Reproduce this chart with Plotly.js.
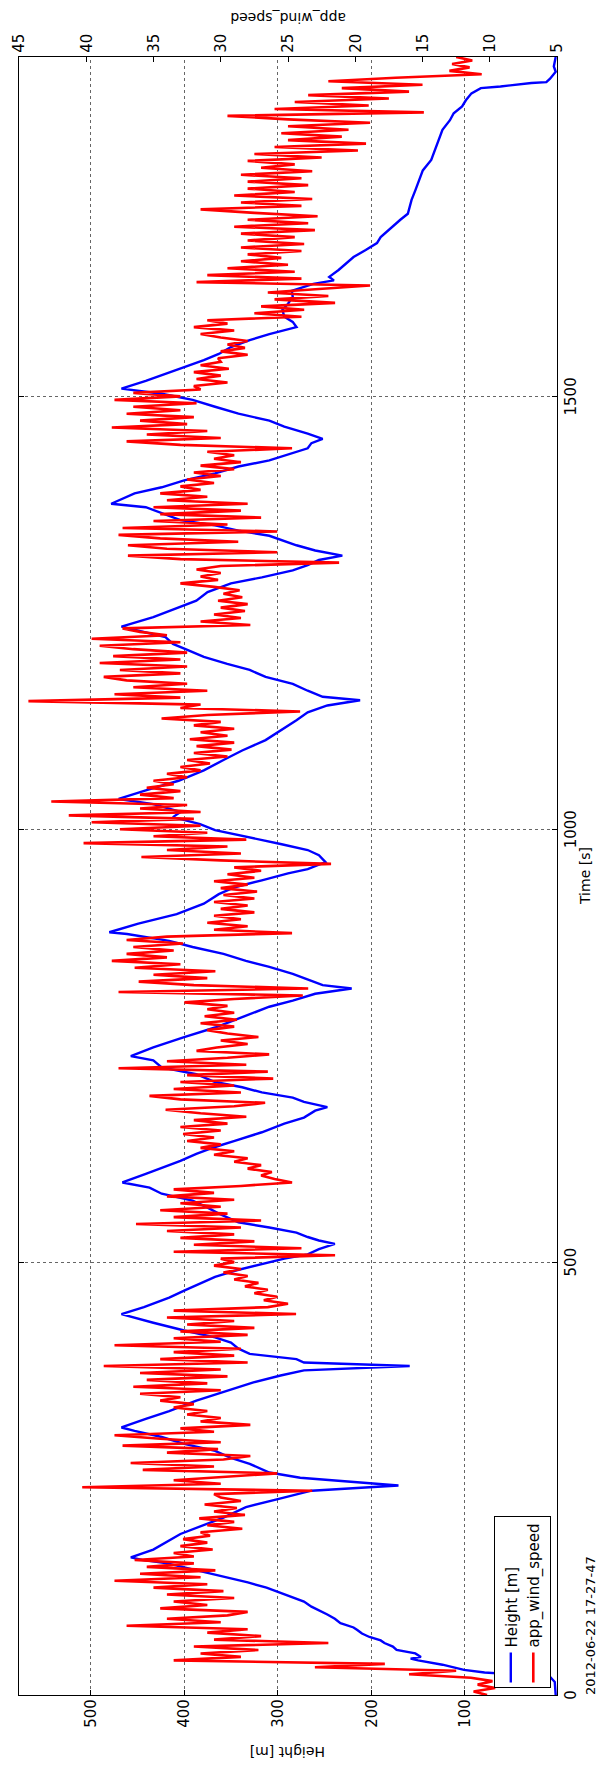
<!DOCTYPE html>
<html><head><meta charset="utf-8">
<script src="https://cdn.plot.ly/plotly-3.0.1.min.js"></script>
<style>
html,body{margin:0;padding:0;width:604px;height:1767px;overflow:hidden;background:#fff;}
#chart{position:absolute;left:0;top:0;width:1767px;height:604px;transform-origin:0 0;transform:translateY(1767px) rotate(-90deg);}
</style></head><body><div id="chart"></div>
<script>
// ---- data ----
const TIME_TICKS = [0, 500, 1000, 1500];
const HEIGHT_TICKS = [100, 200, 300, 400, 500];
const WIND_TICKS = [5, 10, 15, 20, 25, 30, 35, 40, 45];
const DATE_LABEL = '2012-06-22 17-27-47';

// Height [m] vs time [s]
const HEIGHT_T = [0,15,21,26,29,35,40,42,44,48,52,56,60,63,67,71,75,78,83,88,93,98,102,108,113,118,124,130,136,142,147,152,156,159,168,186,205,217,226,236,242,251,257,267,274,282,290,298,305,309,319,328,340,351,361,369,375,380,384,388,394,400,407,413,421,430,440,448,459,467,475,483,490,498,504,509,515,521,525,529,534,540,546,556,563,571,579,586,592,602,610,617,625,633,640,650,660,667,675,679,685,690,696,702,708,717,725,733,738,748,760,771,783,795,802,810,816,820,825,833,841,848,856,864,871,879,881,891,902,914,925,933,941,949,954,962,970,976,983,991,999,1006,1014,1020,1029,1035,1045,1056,1068,1080,1091,1103,1114,1126,1135,1143,1149,1153,1160,1168,1176,1184,1191,1199,1207,1214,1222,1230,1234,1245,1255,1264,1274,1284,1291,1299,1305,1311,1316,1322,1328,1334,1339,1345,1351,1357,1365,1372,1376,1388,1395,1403,1411,1419,1426,1434,1440,1446,1451,1457,1465,1472,1480,1488,1496,1503,1509,1518,1526,1534,1542,1549,1557,1565,1572,1580,1586,1592,1600,1607,1615,1622,1630,1634,1638,1646,1650,1661,1669,1677,1684,1692,1704,1711,1727,1738,1750,1761,1773,1785,1796,1808,1819,1827,1835,1842,1850,1856,1858,1862,1863,1867,1875,1881,1892];
const HEIGHT_M = [3,4,9,79,101,124,150,158,147,153,173,177,186,190,202,210,215,219,233,239,247,256,264,272,284,297,312,332,355,378,398,418,445,457,433,404,358,334,301,264,171,276,309,330,350,367,400,424,453,467,441,416,387,354,326,297,272,159,272,280,330,342,350,367,400,433,467,443,416,400,383,367,346,317,293,268,256,239,256,268,280,309,342,363,375,391,424,437,466,441,420,404,387,367,346,317,293,272,260,247,272,284,317,338,367,387,424,433,457,433,400,367,338,309,284,260,221,252,264,284,309,334,358,391,416,461,480,449,408,379,363,346,317,289,268,249,256,268,297,334,367,383,412,404,433,470,441,406,379,358,338,313,297,280,268,247,212,252,268,284,313,330,354,379,396,412,420,453,467,433,408,387,375,350,317,284,268,256,231,260,280,297,309,342,367,404,424,441,478,453,424,400,367,342,309,284,268,264,252,268,293,309,342,367,391,424,467,441,420,400,379,363,350,330,309,280,284,293,295,289,284,285,262,240,245,235,231,219,206,194,190,182,169,161,157,153,149,145,136,132,128,124,116,112,103,99,93,83,62,29,13,9,3,5,3];

// app_wind_speed, sampled every WIND_DT seconds from WIND_T0
const WIND_T0 = 0;
const WIND_DT = 4;
const WIND = [
 10.2, 11.2, 9.6, 10.9, 9.8, 11.4,
 16.0, 12.5, 23.0, 17.8, 33.5,
 28.5, 31.5, 27.2, 32.0, 22.0, 30.5, 27.0, 31.0, 28.0,
 37.0, 30.0, 34.0, 29.5, 28.0, 34.5,
 31.0, 33.5, 29.0, 34.0,
 29.8, 35.0, 31.0, 37.9, 31.5, 36.0, 30.4, 35.5, 32.0,
 36.4, 32.0,
 33.5, 30.6, 33.0, 31.0, 32.8, 30.8,
 31.5, 28.4, 31.0, 29.0, 31.6, 28.2, 30.5, 28.8, 31.2, 28.5, 30.0,
 30.5, 23.2, 40.3,
 30.0, 33.5, 29.5, 25.8, 35.8, 30.5, 36.7, 29.8, 27.8, 34.0, 30.2, 37.3, 30.0, 34.5, 37.9, 30.5, 33.0,
 27.8, 31.5, 30.0, 32.5, 31.0, 33.5, 32.0, 34.5, 33.0, 36.0,
 30.0, 36.5, 31.0, 35.5, 29.5, 36.0, 30.0, 38.7, 28.0, 34.5,
 29.0, 33.5, 28.5, 37.9, 30.0,
 33.5, 28.0, 33.0, 27.5, 32.5, 29.0, 34.0, 24.4, 33.5, 26.5,
 25.0, 26.8, 25.8, 27.5, 26.5, 28.2, 27.2, 29.0, 28.0, 29.8, 28.5, 30.5, 29.0,
 30.0, 21.5,
 33.5, 24.0, 32.0, 27.5,
 33.0, 29.0, 34.0, 28.5, 36.3, 27.0, 33.5, 29.5, 34.5, 30.0, 33.0, 29.0, 34.0, 30.5, 33.5, 28.5, 24.7, 26.0,
 27.0, 26.2, 28.0, 27.0, 29.0, 28.0, 30.5, 29.0, 31.5, 30.0, 32.5,
 30.5, 32.8, 30.0, 33.0,
 29.5, 32.0, 28.1, 31.5, 34.1,
 29.0, 26.7, 33.0, 35.3, 28.5, 33.5, 29.0,
 33.0, 26.1, 32.5, 26.5,
 37.6, 28.1, 34.0, 29.5, 26.4,
 31.8, 30.3,
 28.0, 30.0, 27.2, 29.5,
 31.0, 29.0, 31.5, 28.8, 31.2,
 29.0, 31.0, 29.5, 32.7, 29.0, 23.9,
 37.6, 23.5,
 32.0, 36.1, 31.0, 35.0, 30.4, 36.4,
 33.0, 38.1, 34.0, 37.0, 33.5, 36.5, 32.8, 37.0, 34.0,
 24.7,
 30.5, 28.0, 31.0, 28.5, 30.5, 27.5, 30.0,
 28.0, 30.5, 27.5, 29.8, 27.3, 30.0, 28.0, 30.5, 27.5,
 29.5, 27.0, 29.0, 21.8,
 30.0, 35.9,
 28.5, 34.0, 29.5, 40.2, 28.1,
 35.0, 31.0, 37.5, 31.5, 39.6, 32.0, 41.3, 31.5,
 36.0, 32.5, 42.6,
 33.5, 36.0, 33.0, 35.5, 33.5,
 35.0, 32.5, 34.0, 31.5, 33.0, 30.8,
 32.5, 29.5, 32.0, 29.2, 31.8, 29.0, 32.3, 29.5, 31.5, 29.0, 32.0, 30.0,
 34.4,
 31.0, 24.1, 33.0,
 31.5, 44.3,
 33.0, 37.9, 31.0, 36.5, 32.5, 37.0, 38.7, 33.0, 37.5, 32.5, 39.0, 33.0, 38.0, 32.5, 36.5, 39.0, 33.0,
 39.6, 34.0,
 36.0, 37.3,
 27.8,
 31.5, 28.5, 30.5, 28.2, 30.0, 28.0, 30.2, 28.4, 29.8, 28.6, 30.5, 33.0, 30.2, 31.5, 30.0, 31.8, 30.0,
 21.2,
 33.0, 36.9, 25.8, 34.0, 36.9, 28.7, 34.5, 37.6, 25.8, 37.3, 29.5,
 35.0, 27.0, 34.5, 28.5, 35.0, 28.0, 34.0,
 31.0, 34.5, 31.5, 33.0, 30.5, 32.5,
 30.0, 32.0, 29.0, 31.5, 28.5, 30.5,
 29.0, 31.0, 24.7,
 33.0, 37.0, 30.0, 35.5, 31.0, 38.1,
 32.5, 36.0, 32.0, 37.0, 33.0, 36.5, 31.8, 37.9, 33.0, 36.5, 31.5,
 32.0, 29.5, 31.8, 30.0, 32.0, 29.4, 31.5, 30.0,
 30.2, 28.0, 30.0, 28.2, 29.5, 28.0, 30.0,
 31.5, 29.0, 32.0, 29.5, 31.0,
 24.0, 27.5, 23.8, 27.0,
 21.5, 26.0, 22.0,
 26.5, 22.5, 18.9,
 31.8, 24.0, 31.0, 24.5, 29.5,
 25.0, 28.5, 25.5, 28.0,
 24.0, 28.5, 23.8, 28.0, 24.5,
 28.5, 23.0, 29.0, 23.5, 28.0, 22.8, 27.5, 31.5,
 24.0, 28.5, 23.2, 29.0, 24.5, 28.0,
 23.5, 28.0, 24.0, 28.5, 23.2, 27.0, 24.5, 28.0,
 22.5, 27.5, 19.8, 26.0, 19.2, 25.0, 21.0,
 25.5, 20.5, 25.0,
 18.9, 25.0, 29.5,
 14.9, 26.0, 19.0, 24.5, 17.5, 23.5,
 16.0, 21.0, 15.0, 22.0, 17.0,
 10.6,
 13.0, 11.5, 12.8, 11.3, 12.5
];

// ---- chart ----
const FONT = 'DejaVu Sans, Verdana, sans-serif';
const traces = [
  {type:'scatter', mode:'lines', name:'Height [m]', x:HEIGHT_T, y:HEIGHT_M,
   line:{color:'#0000ff', width:2.4}, yaxis:'y'},
  {type:'scatter', mode:'lines', name:'app_wind_speed', x0:WIND_T0, dx:WIND_DT, y:WIND,
   line:{color:'#ff0000', width:2.6}, yaxis:'y2'}
];
const axisCommon = {ticks:'inside', ticklen:5, tickwidth:1, tickcolor:'#000',
  showline:true, linecolor:'#000', linewidth:1.2, zeroline:false,
  tickfont:{family:FONT, size:15, color:'#000'}};
const layout = {
  width:1767, height:604,
  margin:{l:72, r:57, t:19, b:47, pad:0},
  paper_bgcolor:'#fff', plot_bgcolor:'#fff',
  font:{family:FONT, size:15, color:'#000'},
  showlegend:true,
  legend:{x:0.004, y:0.012, xanchor:'left', yanchor:'bottom', bgcolor:'#fff',
    bordercolor:'#000', borderwidth:1, font:{family:FONT, size:15}, itemwidth:30, tracegroupgap:0},
  xaxis:Object.assign({}, axisCommon, {range:[0,1892], tickvals:TIME_TICKS, mirror:'ticks',
    showgrid:true, gridcolor:'#666', griddash:'dot', gridwidth:1}),
  yaxis:Object.assign({}, axisCommon, {range:[1.6,576.5], tickvals:HEIGHT_TICKS, mirror:true,
    showgrid:true, gridcolor:'#666', griddash:'dot', gridwidth:1}),
  yaxis2:Object.assign({}, axisCommon, {range:[5,45], tickvals:WIND_TICKS, overlaying:'y', side:'right',
    showgrid:false}),
  annotations:[
    {text:'Time [s]', xref:'paper', yref:'paper', x:0.5, y:0, xanchor:'center', yanchor:'middle',
     yshift:-28, showarrow:false, font:{family:FONT, size:14}},
    {text:'Height [m]', xref:'paper', yref:'paper', x:0, y:0.5, xanchor:'center', yanchor:'middle',
     xshift:-57, textangle:-90, showarrow:false, font:{family:FONT, size:14}},
    {text:'app_wind_speed', xref:'paper', yref:'paper', x:1, y:0.5, xanchor:'center', yanchor:'middle',
     xshift:39, textangle:-90, showarrow:false, font:{family:FONT, size:14}},
    {text:DATE_LABEL, xref:'paper', yref:'paper', x:0, y:0, xanchor:'left', yanchor:'middle',
     xshift:-2, yshift:-33, showarrow:false, font:{family:FONT, size:13}}
  ]
};
Plotly.newPlot('chart', traces, layout, {staticPlot:true, displayModeBar:false});
</script></body></html>
